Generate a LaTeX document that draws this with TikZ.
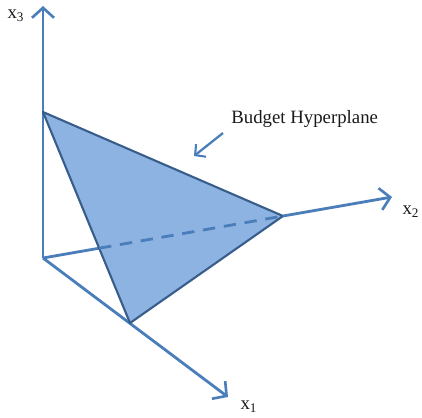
\documentclass[tikz,border=0pt]{standalone}
\usepackage{fontspec}
\setmainfont{Liberation Serif}
\usepackage{tikz}
\usetikzlibrary{arrows.meta}
\definecolor{bhAxis}{HTML}{4A7EBB}
\definecolor{bhFill}{HTML}{8DB3E2}
\definecolor{bhEdge}{HTML}{385D8A}
\definecolor{bhInk}{HTML}{1A1A1A}
\tikzset{
  axis/.style  ={-{Straight Barb[length=2mm,width=4.4mm,line width=1.5pt]}, line width=1.6pt, bhAxis},
  hidden/.style={line width=1.6pt, bhAxis, dash pattern=on 7pt off 5pt},
  plane/.style ={fill=bhFill, draw=bhEdge, line width=1.2pt, line join=round},
  lbl/.style   ={font=\fontsize{10.7}{12}\selectfont, text=bhInk, inner sep=0pt},
  ptr/.style   ={-{Straight Barb[length=1.5mm,width=3.2mm,line width=1.2pt]}, line width=1.3pt, bhAxis},
}
\begin{document}
\begin{tikzpicture}[x=0.02cm,y=-0.02cm]
\useasboundingbox (0,0) rectangle (422,417);
% ---- corner points ----
\coordinate (O)  at (43,258);
\coordinate (X1) at (228,397);
\coordinate (X2) at (392,197);
\coordinate (X3) at (43,6);
\coordinate (A)  at (43,112);
\coordinate (B)  at (130,323);
\coordinate (C)  at (283,216);
\coordinate (D)  at (intersection of O--X2 and A--B);

% ---- axes behind the plane ----
\draw[axis] (O)--(X3);
\draw[axis] (O)--(X1);
\draw[line width=1.6pt,bhAxis] (O)--(D);

% ---- budget plane ----
\draw[plane] (A)--(C)--(B)--cycle;
\draw[hidden] (D)--(C);
\draw[axis] (C)--(X2);

% ---- labels ----
\node[lbl] (l3) at (16,16)  {x\textsubscript{3}};
\node[lbl] (l2) at (411,212) {x\textsubscript{2}};
\node[lbl] (l1) at (249,407) {x\textsubscript{1}};
\node[lbl,anchor=west] (bh) at (231,119) {Budget Hyperplane};
\coordinate (bhFrom) at (223,133);
\coordinate (bhTip)  at (194,156);
\draw[ptr] (bhFrom) -- (bhTip);
\end{tikzpicture}
\end{document}
